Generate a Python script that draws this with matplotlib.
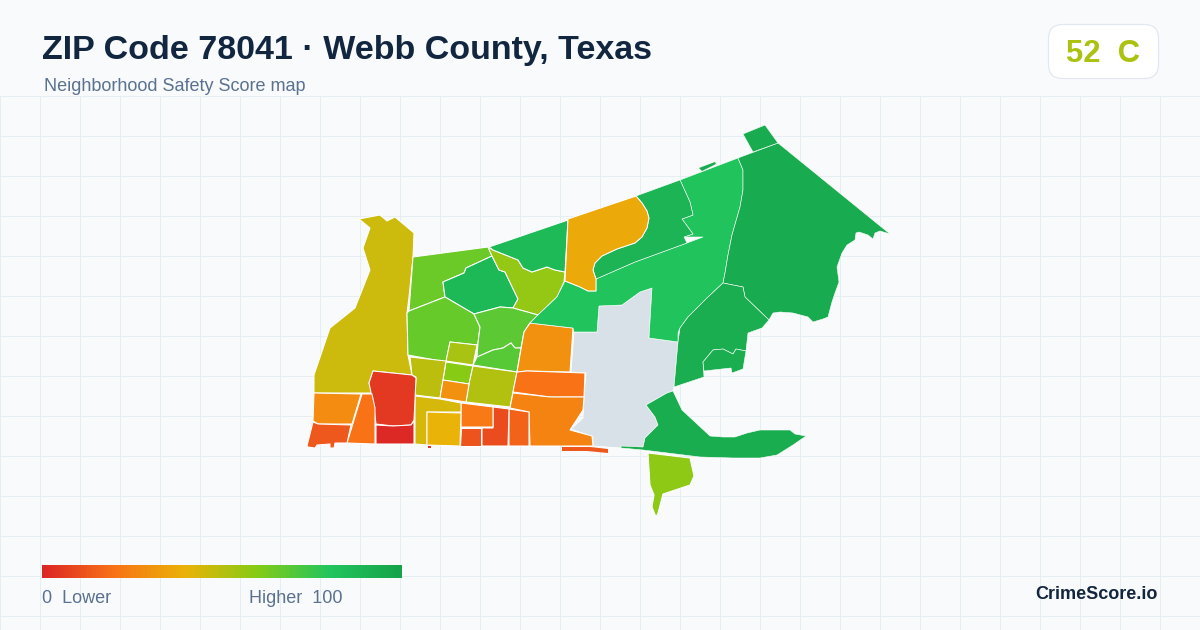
import numpy as np
import matplotlib
matplotlib.use("Agg")
import matplotlib.pyplot as plt
from matplotlib.colors import LinearSegmentedColormap, Normalize
from matplotlib.patches import Polygon, FancyBboxPatch

plt.rcParams['font.family'] = ['Liberation Sans', 'DejaVu Sans']

# ---- text ----
TITLE = "ZIP Code 78041 · Webb County, Texas"
SUBTITLE = "Neighborhood Safety Score map"
BADGE = "52  C"
BRAND = "CrimeScore.io"
LEGEND_LOW = "0  Lower"
LEGEND_HIGH = "Higher  100"
ZIP_SCORE = 52

# ---- colour scale ----
stops = [0.0, 0.2, 0.4, 0.6, 0.8, 1.0]
stop_colors = ["#dc2626", "#f97316", "#eab308", "#84cc16", "#22c55e", "#16a34a"]
NO_DATA = "#d8e0e8"

# ---- tract outlines and safety scores ----
west = [(359,219),(380,215),(387,221),(395,217),(414,233),(413,257),(409,297),(407,313),(408,355),(412,375),(373,371),(369,383),(372,393),(314,393),(314,375),(330,328),(355,308),(370,270),(363,248),(370,228)]
nw_lime = [(413,257),(488,247),(492,256),(466,268),(464,273),(443,282),(445,297),(409,311)]
nw_inner = [(492,256),(466,268),(464,273),(443,282),(445,297),(474,314),(500,307),(513,308),(518,299),(505,272),(499,270)]
nw_yellow = [(488,247),(493,250),(518,260),(523,268),(532,272),(547,267),(555,270),(565,272),(564,282),(557,297),(538,315),(513,308),(518,299),(505,272),(499,270),(492,256)]
north_a = [(489,247),(568,220),(565,272),(555,270),(547,267),(532,272),(523,268),(518,260),(493,250)]
mid_left = [(409,311),(445,297),(474,314),(480,327),(478,343),(477,345),(450,342),(446,362),(408,355),(407,313)]
block_a = [(450,342),(477,345),(473,365),(446,361)]
block_b = [(446,362),(473,366),(469,384),(443,380)]
mid_c = [(474,314),(500,307),(513,308),(538,315),(530,323),(524,332),(521,348),(515,348),(511,343),(503,348),(493,350),(477,357),(478,343),(480,327)]
mid_d = [(477,357),(493,350),(503,348),(511,343),(515,348),(521,348),(517,372),(473,365)]
olive_a = [(410,357),(446,361),(440,398),(415,395),(416,377),(412,375)]
olive_b = [(473,366),(517,372),(510,407),(466,402),(469,384)]
small_orange = [(443,380),(469,384),(466,402),(440,398)]
east_orange = [(530,323),(573,328),(570,372),(527,371),(517,372),(524,332)]
band_orange = [(517,372),(527,371),(585,373),(584,397),(550,397),(513,392)]
south_orange = [(513,393),(550,397),(584,397),(583,410),(570,430),(592,436),(593,446),(530,446),(529,412),(510,408)]
strip_a = [(509,409),(529,412),(529,446),(509,446)]
strip_b = [(493,407),(509,409),(508,446),(482,446),(482,428),(493,428)]
block_c = [(461,403),(493,407),(493,427),(461,427)]
block_d = [(461,428),(481,428),(481,446),(460,446)]
amber_l = [(415,396),(440,399),(461,403),(461,412),(427,412),(427,445),(415,444)]
amber_box = [(427,412),(461,413),(460,446),(427,445)]
red_top = [(373,371),(412,375),(416,378),(414,420),(411,425),(393,426),(376,424),(374,407),(369,383)]
red_low = [(376,425),(393,426),(411,425),(414,421),(414,444),(376,444)]
sw_orange = [(314,393),(361,394),(352,424),(318,424),(313,421)]
sw_mid = [(362,394),(372,394),(375,408),(375,444),(347,443)]
sw_corner = [(313,422),(318,424),(351,425),(347,443),(335,443),(334,448),(330,448),(330,444),(317,445),(315,448),(308,447),(307,446)]
river_strip = [(562,447),(590,447),(608,449),(608,453),(587,451),(562,451)]
river_dot = [(428,446),(431,446),(431,448),(428,448)]
central = [(565,281),(580,287),(588,291),(596,291),(596,279),(635,262),(687,243),(703,237),(685,237),(684,237),(693,234),(682,219),(693,215),(690,202),(680,180),(738,158),(743,170),(743,190),(740,207),(732,235),(728,255),(725,273),(723,283),(707,298),(688,317),(680,328),(678,333),(678,342),(649,338),(652,288),(640,292),(622,305),(599,306),(597,332),(574,332),(573,328),(530,323),(538,315),(557,297)]
north_b = [(636,196),(680,180),(690,202),(693,215),(682,219),(693,234),(684,237),(687,243),(635,262),(596,279),(593,270),(595,263),(602,256),(617,249),(635,243),(642,237),(647,228),(649,218),(647,211),(642,203)]
amber_n = [(568,219),(636,196),(642,203),(647,211),(649,218),(647,228),(642,237),(635,243),(617,249),(602,256),(595,263),(593,270),(596,279),(596,291),(588,291),(580,287),(565,281)]
east_big = [(738,158),(778,143),(890,234),(880,231),(875,233),(873,239),(868,235),(862,233),(859,232),(856,233),(855,240),(847,245),(842,253),(837,267),(839,282),(835,293),(832,302),(828,317),(823,319),(813,322),(808,317),(793,313),(780,312),(773,313),(769,320),(745,297),(743,287),(723,283),(725,273),(728,255),(732,235),(740,207),(743,190),(743,170)]
top_tab = [(743,134),(765,125),(778,143),(753,152)]
sliver = [(699,168),(715,162),(716,164),(702,171)]
se_a = [(678,342),(680,328),(688,317),(707,298),(723,283),(743,287),(745,297),(769,320),(762,328),(748,333),(746,351),(736,349),(733,354),(723,349),(713,350),(703,362),(704,377),(674,387)]
se_b = [(703,362),(713,350),(723,349),(733,354),(736,349),(746,351),(743,369),(732,373),(731,368),(704,371)]
no_data = [(649,338),(652,288),(640,292),(622,305),(599,306),(597,332),(574,332),(571,372),(586,373),(584,397),(583,418),(571,429),(593,437),(593,446),(620,448),(643,447),(645,438),(658,425),(655,417),(646,405),(667,393),(673,391),(674,387),(678,342)]
south = [(673,391),(682,410),(710,436),(723,437),(735,437),(747,433),(760,430),(790,430),(795,434),(806,436),(793,445),(777,455),(760,458),(733,458),(700,457),(643,450),(621,448),(621,446),(643,447),(645,438),(658,425),(655,417),(646,405),(667,393)]
south_lime = [(648,453),(690,458),(694,476),(690,485),(663,494),(658,513),(656,517),(652,507),(654,495),(650,485)]

tracts = [west, nw_lime, nw_inner, nw_yellow, north_a, mid_left, block_a, block_b, mid_c, mid_d,
          olive_a, olive_b, small_orange, east_orange, band_orange, south_orange, strip_a, strip_b,
          block_c, block_d, amber_l, amber_box, red_top, red_low, sw_orange, sw_mid, sw_corner,
          river_strip, river_dot, central, north_b, amber_n, east_big, top_tab, sliver, se_a, se_b,
          south, south_lime]
scores = [46, 65, 87, 57, 86, 66, 53, 59, 68, 69,
          49, 51, 29, 29, 20, 25, 16, 10,
          22, 12, 44, 40, 5, 1, 28, 20, 13,
          13, 3, 81, 90, 37, 95, 95, 95, 93, 93,
          94, 58]
thin_borders = [central, north_b, east_big, top_tab, se_a, se_b, south]
no_border = [river_strip, river_dot, sliver]

W, H = 1200, 630
BG = "#f8fafc"
GRID = "#e6edf3"

cmap = LinearSegmentedColormap.from_list("safety", list(zip(stops, stop_colors)))
norm = Normalize(0, 100)

fig = plt.figure(figsize=(W / 100, H / 100), dpi=100, facecolor=BG)
ax = fig.add_axes([0, 0, 1, 1])
ax.set_xlim(0, W)
ax.set_ylim(H, 0)
ax.axis("off")

# background grid, starting below the header
for x in range(0, W + 1, 40):
    ax.plot([x + 0.5, x + 0.5], [96, H], color=GRID, lw=0.72, zorder=1, solid_capstyle="butt", snap=False)
for y in range(96, H + 1, 40):
    ax.plot([0, W], [y + 0.5, y + 0.5], color=GRID, lw=0.72, zorder=1, solid_capstyle="butt", snap=False)

# map
ax.add_patch(Polygon(no_data, closed=True, fc=NO_DATA, ec="white", lw=0.6, zorder=2, joinstyle="round"))
for poly, score in zip(tracts, scores):
    if any(poly is t for t in no_border):
        lw = 0
    elif any(poly is t for t in thin_borders):
        lw = 0.4
    else:
        lw = 0.75
    ax.add_patch(Polygon(poly, closed=True, fc=cmap(norm(score)), ec="white", lw=lw, zorder=3, joinstyle="round"))

# header
ax.text(42, 59.5, TITLE, fontsize=24.48, fontweight="bold", color="#12263f", ha="left", va="baseline", zorder=5)
ax.text(44, 91, SUBTITLE, fontsize=13.0, color="#5b7190", ha="left", va="baseline", zorder=5)

# score badge
ax.add_patch(FancyBboxPatch((1048.5, 24.5), 110, 54, boxstyle="round,pad=0,rounding_size=14",
                            fc="white", ec="#e2e8f0", lw=0.9, zorder=4))
ax.text(1066, 62, BADGE, fontsize=22.3, fontweight="bold", color=cmap(norm(ZIP_SCORE)),
        ha="left", va="baseline", zorder=5)

# legend bar
gradient = np.linspace(0, 100, 361).reshape(1, -1)
ax.imshow(gradient, cmap=cmap, norm=norm, extent=(42, 402, 578, 565), aspect="auto", zorder=4,
          interpolation="bilinear")
ax.set_xlim(0, W)
ax.set_ylim(H, 0)
ax.text(42, 603, LEGEND_LOW, fontsize=13, color="#5b7190", ha="left", va="baseline", zorder=5)
ax.text(249, 603, LEGEND_HIGH, fontsize=13, color="#5b7190", ha="left", va="baseline", zorder=5)

# brand
ax.text(1158, 599, BRAND, fontsize=13, fontweight="bold", color="#12263f", ha="right", va="baseline", zorder=5)

fig.savefig("out.png", dpi=100, facecolor=BG)
